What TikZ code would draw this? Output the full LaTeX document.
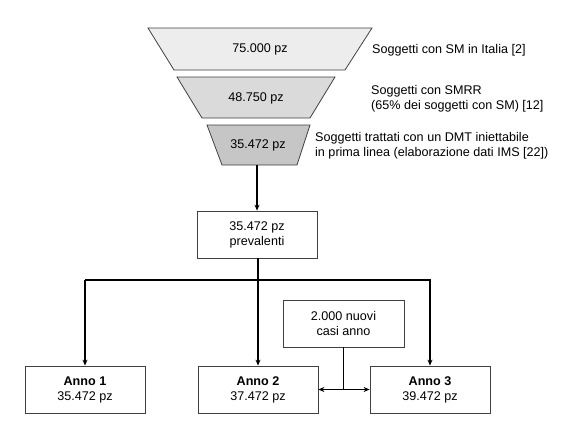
\documentclass[tikz,border=0pt]{standalone}
\usepackage{fontspec}
\setmainfont{Liberation Sans}
\usetikzlibrary{arrows.meta,calc}
\definecolor{trapA}{HTML}{EDEDED}
\definecolor{trapB}{HTML}{DADADA}
\definecolor{trapC}{HTML}{C6C6C6}
\definecolor{edge}{HTML}{404040}
\begin{document}
\begin{tikzpicture}[x=1pt,y=-1pt,
  every node/.style={font=\fontsize{12.6}{15}\selectfont, text=black},
  trap/.style={draw=edge, line width=0.8pt},
  boxn/.style={draw=edge, line width=0.8pt, fill=white, minimum width=120pt, minimum height=47pt, align=center, inner sep=2pt},
  lbl/.style={anchor=west, align=left, inner sep=0pt},
  conn/.style={draw=black, line width=1.3pt},
  arr/.style={conn, -{Stealth[length=6pt,width=5pt]}},
  darr/.style={conn, {Stealth[length=6pt,width=5pt]}-{Stealth[length=6pt,width=5pt]}}
]
\useasboundingbox (0,0) rectangle (576,442);
% funnel
\draw[trap, fill=trapA] (148,28) -- (372,28) -- (345,70) -- (174,70) -- cycle;
\node (t1) at (260,49) {75.000 pz};
\draw[trap, fill=trapB] (177,77) -- (335,77) -- (310,118) -- (202,118) -- cycle;
\node (t2) at (256,98) {48.750 pz};
\draw[trap, fill=trapC] (207,125) -- (310,125) -- (297,165) -- (222,165) -- cycle;
\node (t3) at (258,145) {35.472 pz};
\coordinate (t3b) at (257,165);
% labels
\node[lbl] (l1) at (372,50) {Soggetti con SM in Italia [2]};
\node[lbl] (l2) at (371,98.5) {Soggetti con SMRR\\(65\% dei soggetti con SM) [12]};
\node[lbl] (l3) at (315,145.5) {Soggetti trattati con un DMT iniettabile\\in prima linea (elaborazione dati IMS [22])};
% boxes
\node[boxn] (prev) at (257,234.5) {35.472 pz\\prevalenti};
\node[boxn] (a1) at (85,389.5) {\textbf{Anno 1}\\35.472 pz};
\node[boxn] (a2) at (258,389.5) {\textbf{Anno 2}\\37.472 pz};
\node[boxn] (a3) at (430,389.5) {\textbf{Anno 3}\\39.472 pz};
\node[boxn, minimum width=121pt] (nuovi) at (343.5,323.5) {2.000 nuovi\\casi anno};
\coordinate (bus) at (0,280);
% connectors
\draw[arr] (t3b) -- (prev.north);
\draw[arr] (prev.south -| a2.north) -- (a2.north);
\draw[arr] (a1.north |- bus) -| (a3.north);
\draw[arr] (a1.north |- bus) -- (a1.north);
\coordinate (j) at (nuovi.south |- a2.east);
\draw[conn] (nuovi.south) -- (j);
\draw[darr] (a2.east) -- (a3.west);
\end{tikzpicture}
\end{document}
